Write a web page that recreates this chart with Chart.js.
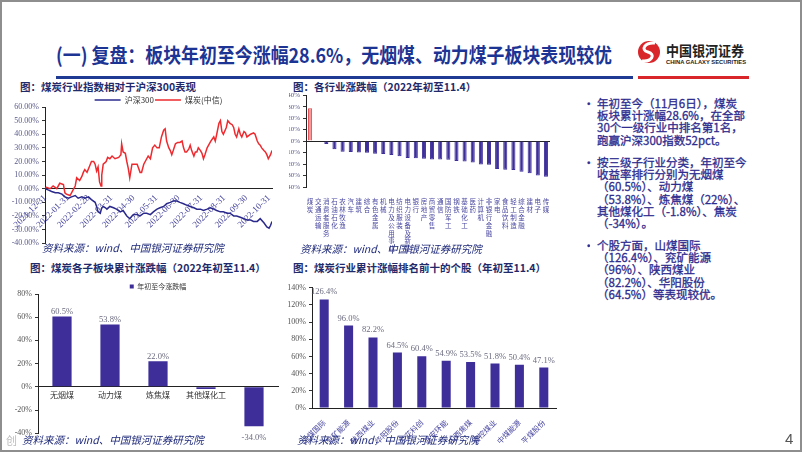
<!DOCTYPE html>
<html>
<head>
<meta charset="utf-8">
<script src="https://cdn.jsdelivr.net/npm/chart.js@4.4.0/dist/chart.umd.min.js"></script>
<style>
html, body { margin: 0; padding: 0; }
body { width: 802px; height: 452px; position: relative; overflow: hidden; background: #fff; font-family: "Noto Sans CJK SC", sans-serif; }
.frame { position: absolute; left: 0; top: 0; width: 798px; height: 448px; border: 2px solid #8e8e8e; }
canvas { position: absolute; }
.ctitle { position: absolute; font-weight: bold; font-size: 10.5px; color: #1F2A6B; white-space: nowrap; }
.src { position: absolute; font-style: italic; font-size: 10.5px; color: #1F2A7A; white-space: nowrap; }
.bul { position: absolute; left: 583px; width: 200px; font-size: 11.5px; line-height: 12.2px; color: #2E2C8E; -webkit-text-stroke: 0.3px #2E2C8E; }
.bul span.dot { position: absolute; left: 0; top: 0; }
.bul div.txt { margin-left: 14px; white-space: nowrap; }
</style>
</head>
<body>
<div class="frame"></div>

<!-- 标题 -->
<svg style="position:absolute;left:0;top:0" width="802" height="90">
  <text x="56" y="63" font-family="Noto Sans CJK SC" font-weight="bold" font-size="20" fill="#1C3494"
        textLength="556" lengthAdjust="spacingAndGlyphs">(一) 复盘：板块年初至今涨幅28.6%，无烟煤、动力煤子板块表现较优</text>
  <rect x="56" y="76" width="577" height="3" fill="#1F3A93"/>
  <rect x="638" y="76" width="111" height="3" fill="#D9262B"/>
  <!-- logo -->
  <circle cx="649" cy="52" r="11" fill="#D9262B"/>
  <path d="M655 43 C 645 42, 640 50, 648 52 C 656 54, 652 62, 642 61" stroke="#fff" stroke-width="3" fill="none"/>
  <text x="666" y="56" font-family="Noto Sans CJK SC" font-weight="bold" font-size="14" fill="#222"
        textLength="78" lengthAdjust="spacingAndGlyphs">中国银河证券</text>
  <text x="666" y="64" font-family="Liberation Sans" font-weight="bold" font-size="5.5" fill="#222"
        textLength="80" lengthAdjust="spacingAndGlyphs">CHINA GALAXY SECURITIES</text>
</svg>

<div class="ctitle" style="left:20px;top:79px">图：煤炭行业指数相对于沪深300表现</div>
<div class="ctitle" style="left:293px;top:79px">图：各行业涨跌幅（2022年初至11.4）</div>
<div class="ctitle" style="left:30px;top:260px">图：煤炭各子板块累计涨跌幅（2022年初至11.4）</div>
<div class="ctitle" style="left:293px;top:260px">图：煤炭行业累计涨幅排名前十的个股（年初至11.4）</div>

<canvas id="lineChart" style="left:0px;top:95px" width="285" height="156"></canvas>
<canvas id="industryChart" style="left:289px;top:88px" width="271" height="165"></canvas>
<canvas id="subChart" style="left:0px;top:282px" width="285" height="159"></canvas>
<canvas id="stockChart" style="left:285px;top:280px" width="277" height="165"></canvas>

<div class="src" style="left:42px;top:240px">资料来源：wind、中国银河证券研究院</div>
<div class="src" style="left:300px;top:241px">资料来源：wind、中国银河证券研究院</div>
<div class="src" style="left:22px;top:432px">资料来源：wind、中国银河证券研究院</div>
<div class="src" style="left:297px;top:432px">资料来源：wind，中国银河证券研究院</div>
<div style="position:absolute;left:6px;top:432px;font-size:11px;color:#bbb">创</div>
<div style="position:absolute;left:785px;top:430px;font-size:15px;color:#555;font-family:'Liberation Sans'">4</div>

<div class="bul" style="top:97px"><span class="dot">•</span><div class="txt">年初至今（11月6日），煤炭<br>板块累计涨幅28.6%，在全部<br>30个一级行业中排名第1名，<br>跑赢沪深300指数52pct。</div></div>
<div class="bul" style="top:156px"><span class="dot">•</span><div class="txt">按三级子行业分类，年初至今<br>收益率排行分别为无烟煤<br>（60.5%）、动力煤<br>（53.8%）、炼焦煤（22%）、<br>其他煤化工（-1.8%）、焦炭<br>（-34%）。</div></div>
<div class="bul" style="top:239px"><span class="dot">•</span><div class="txt">个股方面，山煤国际<br>（126.4%）、兖矿能源<br>（96%）、陕西煤业<br>（82.2%）、华阳股份<br>（64.5%）等表现较优。</div></div>

<script>
// 图1：煤炭(中信) vs 沪深300，x 为 2021-12-31 起的天数
const monthDays = [0, 31, 59, 90, 120, 151, 181, 212, 243, 273, 304];
const monthLabels = ['2021-12-31', '2022-01-31', '2022-02-28', '2022-03-31', '2022-04-30', '2022-05-31',
                     '2022-06-30', '2022-07-31', '2022-08-31', '2022-09-30', '2022-10-31'];

const coalDays = [0, 2, 7, 11, 16, 20, 25, 27, 29, 34, 36, 38, 41, 43, 47, 50, 52, 54, 57, 60, 63, 66, 68, 70, 72,
  74, 76, 77, 79, 83, 85, 88, 91, 95, 100, 103, 104, 106, 109, 111, 113, 115, 118, 121, 125, 127, 129, 131, 134,
  138, 140, 143, 146, 149, 152, 155, 158, 161, 163, 165, 168, 170, 172, 174, 177, 180, 183, 186, 188, 190, 192,
  195, 197, 199, 202, 204, 206, 208, 211, 213, 215, 217, 220, 222, 225, 229, 231, 233, 236, 238, 240, 242, 246,
  248, 251, 254, 256, 258, 260, 263, 265, 267, 270, 272, 274, 279, 283, 285, 288, 290, 292, 294, 297, 299, 301,
  303, 306, 308];
const coalVals = [0, 1, 0, 2, 0, 4, 3, -3, -4, -5, -3, -1, 2, 8, 6, 9, 12, 14, 12, 16, 20, 20, 18, 13, 16,
  5, 2, 10, 18, 20, 23, 22, 24, 22, 23, 25, 33, 27, 26, 20, 15, 8, 18, 18, 18, 15, 12, 12, 18,
  22, 24, 22, 30, 32, 30, 30, 38, 43, 44, 35, 30, 28, 25, 28, 33, 34, 34, 35, 30, 27, 27,
  29, 32, 28, 24, 27, 27, 30, 28, 26, 22, 25, 30, 32, 35, 38, 35, 40, 48, 50, 42, 40, 45,
  50, 48, 47, 45, 40, 38, 44, 40, 38, 42, 41, 38, 40, 41, 40, 35, 33, 32, 30, 28, 27, 25,
  22, 25, 28];

const hs300Days = [0, 5, 9, 14, 18, 23, 27, 32, 36, 41, 45, 50, 54, 59, 63, 68, 70, 72, 75, 77, 79, 82, 84, 88,
  93, 97, 102, 106, 111, 115, 118, 120, 125, 129, 134, 138, 143, 147, 152, 156, 161, 165, 170, 174, 179, 183,
  188, 192, 197, 202, 206, 211, 215, 220, 224, 229, 233, 238, 242, 247, 251, 256, 260, 265, 270, 274, 279, 283,
  288, 292, 297, 301, 304, 306, 308];
const hs300Vals = [0, -1, -2, -3, -3, -4, -6, -7, -6, -5, -7, -6, -7, -6, -8, -10, -13, -17, -18, -14, -13, -14, -15, -13,
  -14, -15, -17, -16, -20, -22, -20, -19, -19, -20, -18, -18, -19, -17, -15, -14, -13, -11, -10, -9, -9, -10,
  -11, -12, -13, -14, -15, -15, -16, -15, -14, -15, -16, -17, -17, -18, -18, -20, -20, -21, -22, -23, -23, -24,
  -24, -22, -25, -28, -29, -27, -24];

// 图2：各行业涨跌幅
const industries = ['煤炭', '交通运输', '消费者服务', '石油石化', '农林牧渔', '汽车', '建筑', '综合', '有色金属', '机械',
  '电力及公用事业', '纺织服装', '电力设备及新能源', '银行', '房地产', '商贸零售', '通信', '国防军工', '钢铁', '基础化工',
  '医药', '计算机', '非银行金融', '家电', '食品饮料', '轻工制造', '综合金融', '建材', '电子', '传媒'];
const industryVals = [28.6, 0.5, -2.6, -7.0, -9.3, -9.6, -9.9, -10.2, -11.0, -11.3,
  -12.2, -13.3, -14.8, -15.0, -15.4, -16.0, -16.0, -16.2, -17.4, -17.7,
  -18.6, -20.3, -20.6, -24.3, -24.9, -25.2, -26.7, -28.1, -29.9, -31.0];

// 图3：煤炭子板块
const subSectors = ['无烟煤', '动力煤', '炼焦煤', '其他煤化工', '焦炭'];
const subVals = [60.5, 53.8, 22.0, -1.8, -34.0];

// 图4：前十个股
const stocks = ['山煤国际', '兖矿能源', '陕西煤业', '华阳股份', '兰花科创', '潞安环能', '山西焦煤', '晋控煤业', '中煤能源', '平煤股份'];
const stockVals = [126.4, 96.0, 82.2, 64.5, 60.4, 54.9, 53.5, 51.8, 50.4, 47.1];

const barBlue = '#3D2E9A';
const tickBlue = '#4A48A0';
const serif = '"Liberation Serif", serif';
const cjk = '"Noto Sans CJK SC", sans-serif';

// 柱顶数值标签
const valueLabels = {
    id: 'valueLabels',
    afterDatasetsDraw(chart) {
        const ctx = chart.ctx;
        const data = chart.data.datasets[0].data;
        ctx.save();
        ctx.font = '8.5px ' + serif;
        ctx.fillStyle = '#6b6b80';
        ctx.textAlign = 'center';
        chart.getDatasetMeta(0).data.forEach((bar, i) => {
            const v = data[i];
            if (Math.abs(v) < 5) return;
            const y = v >= 0 ? bar.y - 5 : bar.y + 12;
            ctx.fillText(v.toFixed(1) + '%', bar.x, y);
        });
        ctx.restore();
    }
};

function toPoints(xs, ys) {
    return xs.map((x, i) => ({ x: x, y: ys[i] }));
}

function gerarGraficoLinha() {
    const ctx = document.getElementById('lineChart').getContext('2d');
    new Chart(ctx, {
        type: 'line',
        data: {
            datasets: [{
                label: '沪深300',
                data: toPoints(hs300Days, hs300Vals),
                borderColor: '#2B2A8C',
                backgroundColor: '#2B2A8C',
                borderWidth: 1.5,
                pointRadius: 0
            }, {
                label: '煤炭(中信)',
                data: toPoints(coalDays, coalVals),
                borderColor: '#EE2A2F',
                backgroundColor: '#EE2A2F',
                borderWidth: 1.5,
                pointRadius: 0
            }]
        },
        options: {
            responsive: false,
            animation: false,
            layout: { padding: { right: 13, bottom: 2 } },
            plugins: {
                tooltip: { enabled: false },
                legend: {
                    position: 'top',
                    fullSize: false,
                    maxHeight: 12,
                    labels: {
                        usePointStyle: true,
                        pointStyle: 'line',
                        pointStyleWidth: 26,
                        boxHeight: 6,
                        padding: 1,
                        color: '#333',
                        font: { size: 8, family: cjk }
                    }
                }
            },
            scales: {
                x: {
                    type: 'linear',
                    position: { y: 0 },
                    min: 0,
                    max: 308,
                    afterBuildTicks: scale => { scale.ticks = monthDays.map(v => ({ value: v })); },
                    grid: { display: false, drawTicks: true, tickLength: 3 },
                    border: { color: '#222', width: 1 },
                    ticks: {
                        autoSkip: false,
                        minRotation: 45,
                        maxRotation: 45,
                        padding: 1,
                        color: tickBlue,
                        font: { size: 9, family: serif },
                        callback: v => monthLabels[monthDays.indexOf(v)]
                    }
                },
                y: {
                    min: -40,
                    max: 60,
                    afterFit: scale => { scale.width = 45; },
                    grid: { display: true, drawOnChartArea: false, tickLength: 3, tickColor: '#333' },
                    border: { color: '#222', width: 1 },
                    ticks: {
                        stepSize: 10,
                        color: '#5a5a8a',
                        font: { size: 8, family: serif },
                        callback: v => v.toFixed(2) + '%'
                    }
                }
            }
        }
    });
}

function gerarGraficoIndustria() {
    const ctx = document.getElementById('industryChart').getContext('2d');
    new Chart(ctx, {
        type: 'bar',
        data: {
            labels: industries.map(n => n.split('')),
            datasets: [{
                data: industryVals,
                backgroundColor: industries.map(n => n === '煤炭' ? '#F59A9A' : barBlue),
                borderColor: industries.map(n => n === '煤炭' ? '#E0474C' : barBlue),
                borderWidth: 1,
                barPercentage: 0.5,
                categoryPercentage: 1
            }]
        },
        options: {
            responsive: false,
            animation: false,
            layout: { padding: { right: 10, top: 2 } },
            plugins: { legend: { display: false }, tooltip: { enabled: false } },
            scales: {
                x: {
                    afterFit: scale => { scale.height = 66; },
                    grid: { display: false },
                    border: { display: false },
                    ticks: {
                        autoSkip: false,
                        maxRotation: 0,
                        padding: 3,
                        color: tickBlue,
                        font: { size: 6.5, family: cjk, lineHeight: 1.2 }
                    }
                },
                y: {
                    min: -40,
                    max: 40,
                    afterFit: scale => { scale.width = 17; },
                    grid: {
                        color: c => c.tick.value === 0 ? '#222' : 'transparent',
                        tickColor: '#333',
                        tickLength: 3
                    },
                    border: { color: '#222' },
                    ticks: {
                        stepSize: 10,
                        color: '#5a5a8a',
                        font: { size: 7, family: serif },
                        callback: v => v + '%'
                    }
                }
            }
        }
    });
}

function gerarGraficoSubsetor() {
    const ctx = document.getElementById('subChart').getContext('2d');
    new Chart(ctx, {
        type: 'bar',
        data: {
            labels: subSectors,
            datasets: [{
                label: '年初至今涨跌幅',
                data: subVals,
                backgroundColor: barBlue,
                barPercentage: 0.4,
                categoryPercentage: 1
            }]
        },
        options: {
            responsive: false,
            animation: false,
            layout: { padding: { right: 7, bottom: 4 } },
            plugins: {
                tooltip: { enabled: false },
                legend: {
                    fullSize: false,
                    maxHeight: 12,
                    labels: {
                        boxWidth: 4,
                        boxHeight: 4,
                        padding: 1,
                        color: '#333',
                        font: { size: 7, family: cjk }
                    }
                }
            },
            scales: {
                x: {
                    position: { y: 0 },
                    grid: { display: false },
                    border: { color: '#222' },
                    ticks: {
                        padding: -5,
                        color: '#333',
                        font: { size: 8, family: cjk }
                    }
                },
                y: {
                    min: -40,
                    max: 80,
                    afterFit: scale => { scale.width = 38; },
                    grid: { drawOnChartArea: false, tickColor: '#333', tickLength: 3 },
                    border: { color: '#222' },
                    ticks: {
                        stepSize: 20,
                        color: '#555',
                        font: { size: 8, family: serif },
                        callback: v => v + '%'
                    }
                }
            }
        },
        plugins: [valueLabels]
    });
}

function gerarGraficoAcoes() {
    const ctx = document.getElementById('stockChart').getContext('2d');
    new Chart(ctx, {
        type: 'bar',
        data: {
            labels: stocks,
            datasets: [{
                data: stockVals,
                backgroundColor: barBlue,
                barPercentage: 0.37,
                categoryPercentage: 1
            }]
        },
        options: {
            responsive: false,
            animation: false,
            layout: { padding: { right: 6, top: 2 } },
            plugins: { legend: { display: false }, tooltip: { enabled: false } },
            scales: {
                x: {
                    afterFit: scale => { scale.height = 37; },
                    grid: { display: false },
                    border: { color: '#222' },
                    ticks: {
                        autoSkip: false,
                        minRotation: 45,
                        maxRotation: 45,
                        padding: 2,
                        color: tickBlue,
                        font: { size: 7.5, family: cjk }
                    }
                },
                y: {
                    min: 0,
                    max: 140,
                    afterFit: scale => { scale.width = 27; },
                    grid: { drawOnChartArea: false, tickColor: '#333', tickLength: 3 },
                    border: { color: '#222' },
                    ticks: {
                        stepSize: 20,
                        color: '#555',
                        font: { size: 8, family: serif },
                        callback: v => v + '%'
                    }
                }
            }
        },
        plugins: [valueLabels]
    });
}

gerarGraficoLinha();
gerarGraficoIndustria();
gerarGraficoSubsetor();
gerarGraficoAcoes();
</script>
</body>
</html>
